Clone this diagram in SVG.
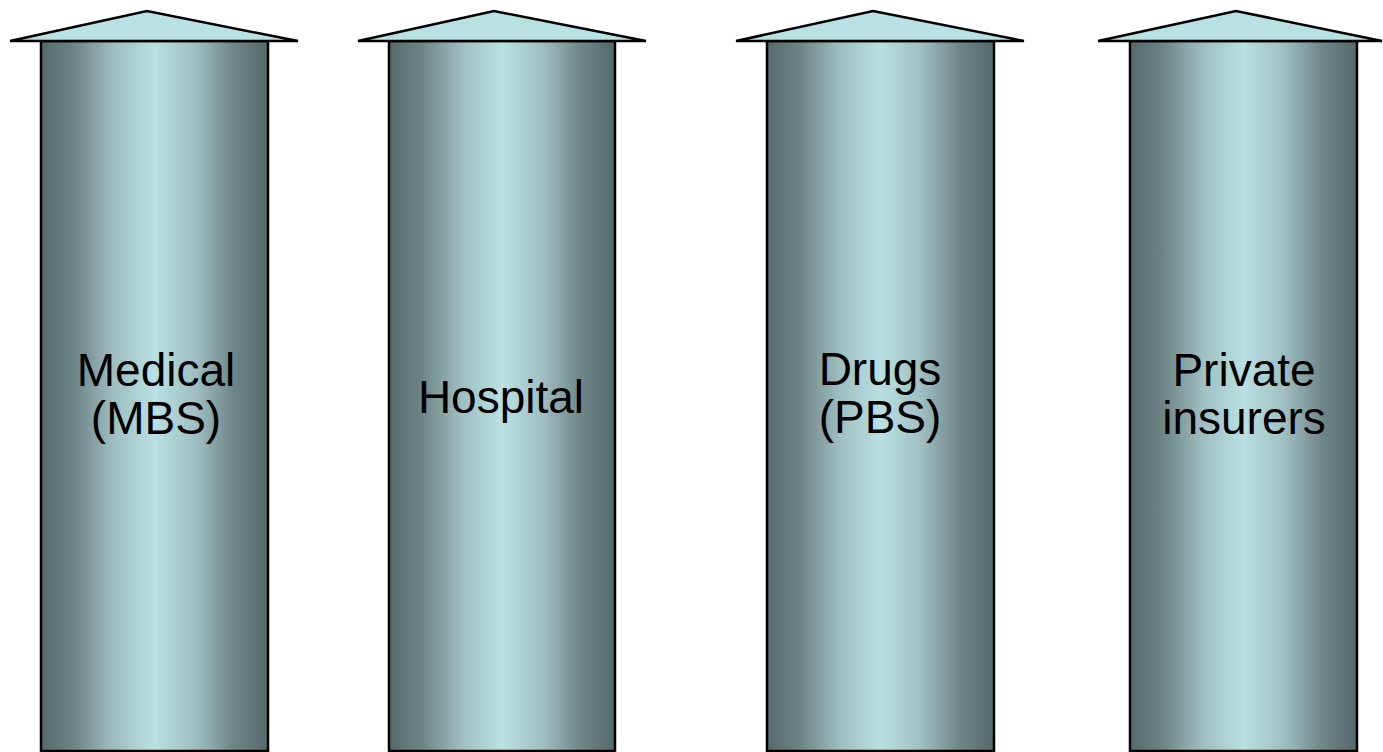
<svg xmlns="http://www.w3.org/2000/svg" width="1383" height="752" viewBox="0 0 1383 752">
<defs>
<linearGradient id="col" x1="0" y1="0" x2="1" y2="0">
<stop offset="0" stop-color="#55696b"/>
<stop offset="0.15" stop-color="#6e8587"/>
<stop offset="0.32" stop-color="#9fbec1"/>
<stop offset="0.5" stop-color="#b9e0e3"/>
<stop offset="0.68" stop-color="#a0bfc2"/>
<stop offset="0.85" stop-color="#6e8587"/>
<stop offset="1" stop-color="#55696b"/>
</linearGradient>
</defs>
<style>
.col{fill:url(#col);stroke:#000;stroke-width:2.5}
.roof{fill:#b9e0e3;stroke:#000;stroke-width:2.5;stroke-linejoin:miter}
.lbl{font-family:"Liberation Sans",Arial,sans-serif;font-size:46px;fill:#000;text-anchor:middle}
</style>
<rect width="1383" height="752" fill="#fff"/>
<g id="connectors"/>
<g id="pillar-medical">
<rect class="col" x="41" y="41" width="227" height="710"/>
<polygon class="roof" points="10,41 147,11 298,41"/>
<text class="lbl" x="156" y="386">Medical</text>
<text class="lbl" x="156" y="434">(MBS)</text>
</g>
<g id="pillar-hospital">
<rect class="col" x="389" y="41" width="226" height="710"/>
<polygon class="roof" points="358,41 494,11 646,41"/>
<text class="lbl" x="501" y="413">Hospital</text>
</g>
<g id="pillar-drugs">
<rect class="col" x="767" y="41" width="227" height="710"/>
<polygon class="roof" points="736,41 873,11 1024,41"/>
<text class="lbl" x="880" y="385">Drugs</text>
<text class="lbl" x="880" y="433">(PBS)</text>
</g>
<g id="pillar-private">
<rect class="col" x="1130" y="41" width="227" height="710"/>
<polygon class="roof" points="1098,41 1236,11 1382,41"/>
<text class="lbl" x="1244" y="386">Private</text>
<text class="lbl" x="1244" y="434">insurers</text>
</g>
</svg>
